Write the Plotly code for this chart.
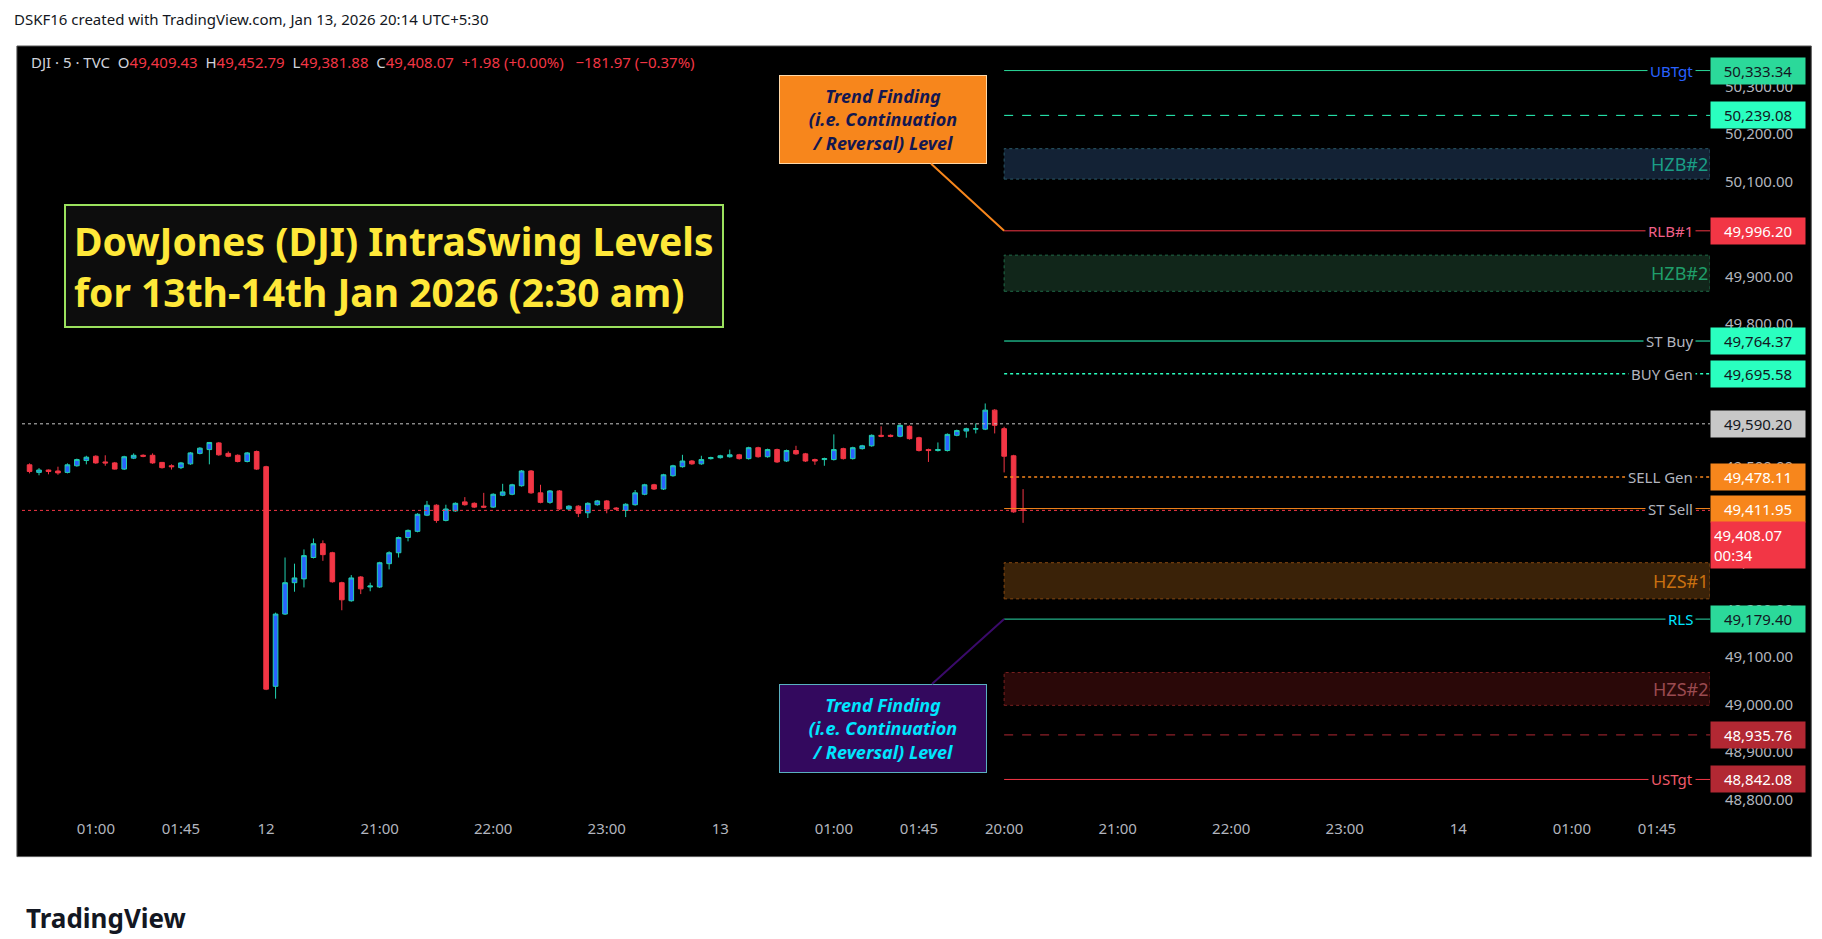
import plotly.graph_objects as go

# %% candle data (5-min bars), x = bar index, 0 = first bar of the Jan 12 session
opens = [49504, 49488, 49493, 49491, 49488, 49502, 49513, 49522, 49510, 49508, 49495, 49518, 49524,
         49524, 49509, 49502, 49498, 49506, 49528, 49536, 49550, 49528, 49524, 49511, 49532,
         49500, 49038, 49190, 49256, 49264, 49309, 49338, 49319, 49256, 49218, 49268, 49247, 49247,
         49296, 49319, 49351, 49364, 49398, 49419, 49387, 49407, 49426, 49423, 49417, 49415, 49440,
         49442, 49460, 49491, 49445, 49425, 49449, 49411, 49417, 49403, 49420, 49428, 49413, 49408,
         49420, 49442, 49462, 49453, 49481, 49500, 49512, 49506, 49517, 49519, 49521, 49525, 49517,
         49540, 49521, 49536, 49512, 49534, 49527, 49515, 49515, 49515, 49538, 49517, 49538, 49544,
         49566, 49566, 49564, 49585, 49561, 49536, 49534, 49534, 49566, 49575, 49579, 49579, 49619,
         49580, 49523, 49409.43]
highs = [49507, 49497, 49494, 49500, 49507, 49517, 49523, 49524, 49524, 49510, 49523, 49528, 49526,
         49528, 49510, 49505, 49510, 49531, 49541, 49552, 49552, 49532, 49526, 49531, 49534,
         49502, 49193, 49309, 49296, 49326, 49349, 49345, 49321, 49258, 49272, 49270, 49256, 49300,
         49322, 49353, 49368, 49402, 49428, 49421, 49420, 49425, 49436, 49425, 49445, 49444, 49464,
         49464, 49493, 49493, 49462, 49451, 49451, 49419, 49419, 49425, 49430, 49430, 49415, 49423,
         49451, 49464, 49464, 49485, 49504, 49525, 49514, 49523, 49521, 49525, 49536, 49527, 49542,
         49542, 49538, 49538, 49536, 49544, 49529, 49517, 49519, 49568, 49540, 49542, 49546, 49568,
         49585, 49568, 49589, 49587, 49563, 49538, 49551, 49570, 49578, 49582, 49591, 49633, 49621,
         49584, 49525, 49452.79]
lows = [49486, 49482, 49484, 49483, 49486, 49500, 49505, 49506, 49502, 49494, 49493, 49516, 49520,
        49506, 49496, 49494, 49495, 49504, 49526, 49505, 49523, 49520, 49509, 49509, 49493,
        49030, 49012, 49188, 49237, 49246, 49307, 49302, 49256, 49198, 49216, 49232, 49238, 49245,
        49284, 49309, 49343, 49362, 49396, 49382, 49385, 49405, 49418, 49413, 49413, 49413, 49438,
        49440, 49458, 49443, 49423, 49422, 49409, 49409, 49394, 49392, 49418, 49402, 49409, 49394,
        49418, 49440, 49451, 49451, 49479, 49498, 49504, 49504, 49515, 49517, 49519, 49515, 49515,
        49519, 49519, 49508, 49510, 49525, 49510, 49504, 49502, 49513, 49515, 49515, 49536, 49542,
        49562, 49562, 49562, 49557, 49532, 49510, 49532, 49532, 49564, 49561, 49570, 49577, 49570,
        49488, 49403, 49381.88]
closes = [49490, 49493, 49490, 49487, 49504, 49515, 49520, 49508, 49508, 49495, 49521, 49524, 49522,
          49508, 49498, 49500, 49508, 49529, 49539, 49551, 49525, 49522, 49511, 49529, 49495,
          49032, 49190, 49256, 49266, 49313, 49338, 49315, 49258, 49220, 49266, 49243, 49249, 49298,
          49319, 49351, 49366, 49400, 49419, 49387, 49411, 49423, 49420, 49415, 49415, 49442, 49447,
          49462, 49491, 49445, 49425, 49449, 49411, 49417, 49402, 49423, 49428, 49411, 49411, 49421,
          49445, 49462, 49453, 49483, 49502, 49512, 49506, 49515, 49519, 49523, 49525, 49517, 49540,
          49521, 49536, 49510, 49534, 49527, 49512, 49512, 49517, 49536, 49517, 49540, 49544, 49566,
          49564, 49564, 49587, 49559, 49534, 49534, 49536, 49568, 49576, 49580, 49580, 49619, 49587,
          49522, 49405, 49408.07]
bar_x = list(range(-25, len(opens) - 25))

tick_idx = [-18, -9, 0, 12, 24, 36, 48, 60, 69, 78, 90, 102, 114, 126, 138, 147]
tick_txt = ["01:00", "01:45", "12", "21:00", "22:00", "23:00", "13", "01:00", "01:45",
            "20:00", "21:00", "22:00", "23:00", "14", "01:00", "01:45"]
price_ticks = [48800, 48900, 49000, 49100, 49200, 49300, 49400, 49500, 49600,
               49700, 49800, 49900, 50000, 50100, 50200, 50300]

# %% levels
lvl_names = ["UBTgt", "", "RLB#1", "ST Buy", "BUY Gen", "SELL Gen", "ST Sell", "RLS", "", "USTgt"]
lvl_values = [50333.34, 50239.08, 49996.20, 49764.37, 49695.58, 49478.11, 49411.95, 49179.40,
              48935.76, 48842.08]
lvl_line = ["#2bd99a", "#2affc0", "#f23645", "#2affc0", "#2affc0", "#f7861c", "#f7861c", "#2bd9a8",
            "#b22833", "#f23645"]
lvl_dash = ["solid", "dash", "solid", "solid", "dot", "dot", "solid", "solid", "dash", "solid"]
lvl_name_col = ["#2962ff", "#aaa", "#f0608a", "#b2b5be", "#b2b5be", "#b2b5be", "#b2b5be", "#00e5ff",
                "#aaa", "#f05a6a"]
lvl_box = ["#2bd99a", "#2affc0", "#f23645", "#2affc0", "#2affc0", "#f7861c", "#f7861c", "#2bd99a",
           "#b22833", "#b22833"]
lvl_box_txt = ["#131722", "#131722", "white", "#131722", "#131722", "white", "white", "#131722",
               "white", "white"]

zone_names = ["HZB#2", "HZB#2", "HZS#1", "HZS#2"]
zone_top = [50169, 49945, 49298, 49067]
zone_bot = [50105, 49869, 49222, 48998]
zone_fill = ["#132235", "#11261a", "#3a2208", "#2a0808"]
zone_edge = ["#2a5a6a", "#1f6b48", "#8a4a10", "#7a2020"]
zone_txt = ["#1a9e86", "#1f9e6a", "#c87010", "#9a4a50"]

lvl_start = 78
x_range = [-25.8, 152.6]
y_range = [48761, 50385]
font = "Noto Sans"

fig = go.Figure()
fig.add_trace(go.Candlestick(
    x=bar_x, open=opens, high=highs, low=lows, close=closes,
    increasing=dict(fillcolor="#2962ff", line=dict(color="#22d1b0", width=1)),
    decreasing=dict(fillcolor="#f23645", line=dict(color="#f23645", width=1)),
    whiskerwidth=0, showlegend=False, hoverinfo="skip",
))

# full-width dotted lines: previous close (gray) and last price (red)
for val, col in [(49590.20, "#c8c8c8"), (49408.07, "#f23645")]:
    fig.add_trace(go.Scatter(x=x_range, y=[val, val], mode="lines", showlegend=False,
                             line=dict(color=col, width=1, dash="dot"), hoverinfo="skip"))

for name, top, bot, fill, edge, tc in zip(zone_names, zone_top, zone_bot, zone_fill, zone_edge, zone_txt):
    fig.add_shape(type="rect", x0=lvl_start, x1=x_range[1], y0=bot, y1=top, fillcolor=fill,
                  line=dict(color=edge, width=1, dash="dot"), layer="above")
    fig.add_annotation(x=x_range[1], y=(top + bot) / 2, text=name, showarrow=False, xanchor="right",
                       font=dict(family=font, size=18, color=tc))

for name, val, lc, dash, nc in zip(lvl_names, lvl_values, lvl_line, lvl_dash, lvl_name_col):
    fig.add_trace(go.Scatter(x=[lvl_start, x_range[1]], y=[val, val], mode="lines", showlegend=False,
                             line=dict(color=lc, width=1.5 if dash == "dot" else 1, dash=dash),
                             hoverinfo="skip"))
    if name:
        fig.add_annotation(x=1, xref="paper", y=val, text=name, showarrow=False, xanchor="right",
                           xshift=-14, bgcolor="black", borderpad=2,
                           font=dict(family=font, size=15, color=nc))

# price boxes on the axis
box_vals = lvl_values[:5] + [49590.20] + lvl_values[5:]
box_cols = lvl_box[:5] + ["#c8c8c8"] + lvl_box[5:]
box_txts = lvl_box_txt[:5] + ["#131722"] + lvl_box_txt[5:]
for val, bc, tc in zip(box_vals, box_cols, box_txts):
    fig.add_annotation(x=1, xref="paper", y=val, text=f"{val:,.2f}", showarrow=False, xanchor="left",
                       bgcolor=bc, borderpad=3, width=88, align="center",
                       font=dict(family=font, size=15, color=tc))
fig.add_annotation(x=1, xref="paper", y=49408.07, yanchor="top", yshift=-11,
                   text="49,408.07<br>00:34", showarrow=False, xanchor="left", bgcolor="#f23645",
                   borderpad=3, width=88, align="left", font=dict(family=font, size=15, color="white"))

# title box
fig.add_annotation(x=0.025, xref="paper", y=0.795, yref="paper", xanchor="left",
                   text="<b>DowJones (DJI) IntraSwing Levels<br>for 13th-14th Jan 2026 (2:30 am)</b>",
                   showarrow=False, align="left", bgcolor="#0d0d0d", bordercolor="#9be15d",
                   borderwidth=2, borderpad=8, font=dict(family=font, size=39, color="#ffe839"))

callout_txt = "<b><i>Trend Finding<br>(i.e. Continuation<br>/ Reversal) Level</i></b>"
fig.add_annotation(x=lvl_start, y=49996.20, ax=-121, ay=-111, text=callout_txt, showarrow=True,
                   arrowhead=0, arrowwidth=2, arrowcolor="#f7861c", bgcolor="#f7861c",
                   bordercolor="#ffd8a8", borderwidth=1, borderpad=8, width=190,
                   font=dict(family=font, size=18, color="#131750"))
fig.add_annotation(x=lvl_start, y=49179.40, ax=-121, ay=109, text=callout_txt, showarrow=True,
                   arrowhead=0, arrowwidth=2, arrowcolor="#3a0a6a", bgcolor="#33095e",
                   bordercolor="#5ab0c0", borderwidth=1, borderpad=8, width=190,
                   font=dict(family=font, size=18, color="#00e5ff"))

# OHLC legend
red = "#f23645"
fig.add_annotation(
    x=0.004, xref="paper", y=0.995, yref="paper", xanchor="left", yanchor="top", showarrow=False,
    text=(f"DJI · 5 · TVC  O<span style='color:{red}'>49,409.43</span>  H<span style='color:{red}'>49,452.79</span>"
          f"  L<span style='color:{red}'>49,381.88</span>  C<span style='color:{red}'>49,408.07</span>"
          f"  <span style='color:{red}'>+1.98 (+0.00%)   −181.97 (−0.37%)</span>"),
    font=dict(family=font, size=15, color="#d1d4dc"))

# page header and footer
fig.add_annotation(x=0, xref="paper", y=1.05, yref="paper", xanchor="left", showarrow=False,
                   xshift=-10, text="DSKF16 created with TradingView.com, Jan 13, 2026 20:14 UTC+5:30",
                   font=dict(family=font, size=15, color="#131722"))
fig.add_annotation(x=0, xref="paper", y=-0.155, yref="paper", xanchor="left", showarrow=False,
                   xshift=2, text="<b>TradingView</b>", font=dict(family=font, size=26, color="#131722"))

# black chart frame extending under the axes
fig.add_shape(type="rect", xref="paper", yref="paper", x0=-0.003, x1=1.06, y0=-0.05, y1=1.0,
              fillcolor="black", line=dict(color="#555", width=1), layer="below")

fig.update_layout(
    width=1822, height=939,
    margin=dict(l=14, r=120, t=38, b=129),
    paper_bgcolor="white", plot_bgcolor="black",
    xaxis=dict(range=x_range, tickvals=tick_idx, ticktext=tick_txt, showgrid=False,
               zeroline=False, rangeslider=dict(visible=False), ticks="",
               tickfont=dict(family=font, size=15, color="#b2b5be")),
    yaxis=dict(range=y_range, side="right", tickvals=price_ticks,
               ticktext=[f"{v:,.2f}" for v in price_ticks], showgrid=False,
               zeroline=False, ticks="", ticklabelstandoff=14,
               tickfont=dict(family=font, size=15, color="#b2b5be")),
)
fig.write_html("out.html")
